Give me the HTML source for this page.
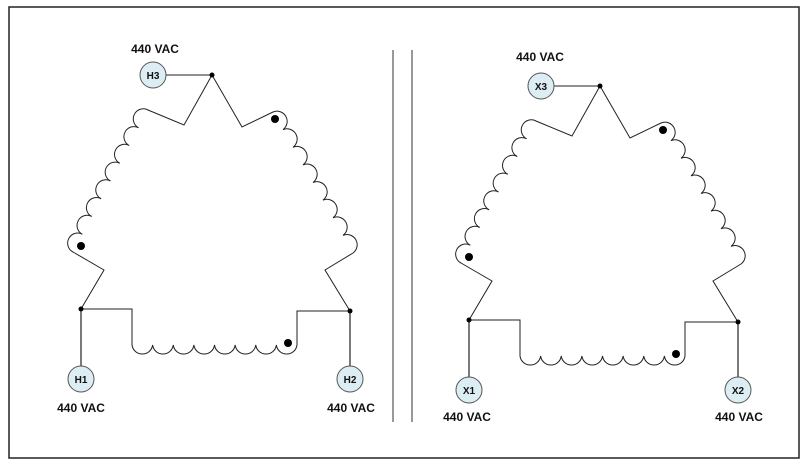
<!DOCTYPE html>
<html><head><meta charset="utf-8"><style>
html,body{margin:0;padding:0;background:#fff;}
svg{display:block;}
text{font-family:"Liberation Sans",sans-serif;font-weight:bold;fill:#111;}
</style></head><body>
<svg width="808" height="466" viewBox="0 0 808 466" xmlns="http://www.w3.org/2000/svg">
<rect x="0" y="0" width="808" height="466" fill="#fff"/>
<rect x="9" y="7" width="790" height="451" fill="none" stroke="#222" stroke-width="1.5"/>
<line x1="393" y1="50" x2="393" y2="422" stroke="#333" stroke-width="1"/>
<line x1="412" y1="50" x2="412" y2="422" stroke="#333" stroke-width="1"/>
<defs>
<g id="d">
  <g fill="none" stroke="#222" stroke-width="1">
    <line x1="166" y1="75" x2="212" y2="75"/>
    <path d="M212,75 L184,125 L148,110 a10 10 0 0 0 -9.375 17.75 a10 10 0 0 0 -9.375 17.75 a10 10 0 0 0 -9.375 17.75 a10 10 0 0 0 -9.375 17.75 a10 10 0 0 0 -9.375 17.75 a10 10 0 0 0 -9.375 17.75 a10 10 0 0 0 -9.375 17.75 a10 10 0 0 0 -9.375 17.75 L104,270 L81,309"/>
    <path d="M212,75 L242,127 L273,112 a10.2 10.2 0 0 1 10 17.625 a10.2 10.2 0 0 1 10 17.625 a10.2 10.2 0 0 1 10 17.625 a10.2 10.2 0 0 1 10 17.625 a10.2 10.2 0 0 1 10 17.625 a10.2 10.2 0 0 1 10 17.625 a10.2 10.2 0 0 1 10 17.625 a10.2 10.2 0 0 1 10 17.625 L325,270 L350,311"/>
    <path d="M81,309 L132,309 L132,345 a10.4 10.4 0 0 0 20.625 0 a10.4 10.4 0 0 0 20.625 0 a10.4 10.4 0 0 0 20.625 0 a10.4 10.4 0 0 0 20.625 0 a10.4 10.4 0 0 0 20.625 0 a10.4 10.4 0 0 0 20.625 0 a10.4 10.4 0 0 0 20.625 0 a10.4 10.4 0 0 0 20.625 0 L297,311 L350,311"/>
    <line x1="81" y1="309" x2="81" y2="366" stroke="#333" stroke-width="1.3"/>
    <line x1="350" y1="311" x2="350" y2="366" stroke="#333" stroke-width="1.3"/>
  </g>
  <g fill="#000">
    <circle cx="212" cy="75" r="2.5"/>
    <circle cx="81" cy="309" r="2.5"/>
    <circle cx="350" cy="311" r="2.5"/>
    <circle cx="275" cy="119" r="4"/>
    <circle cx="81" cy="246" r="4"/>
    <circle cx="288" cy="343" r="4"/>
  </g>
  <g fill="#dcedf3" stroke="#555" stroke-width="1">
    <circle cx="153" cy="75" r="13"/>
    <circle cx="81" cy="379" r="13"/>
    <circle cx="350" cy="379" r="13"/>
  </g>
</g>
</defs>
<use href="#d"/>
<use href="#d" transform="translate(388,11)"/>
<g font-size="10" text-anchor="middle">
  <text x="153" y="79">H3</text>
  <text x="81" y="383">H1</text>
  <text x="350" y="383">H2</text>
  <text x="541" y="90">X3</text>
  <text x="469" y="394">X1</text>
  <text x="738" y="394">X2</text>
</g>
<g font-size="12" text-anchor="middle">
  <text x="155" y="53">440 VAC</text>
  <text x="81" y="412">440 VAC</text>
  <text x="351" y="412">440 VAC</text>
  <text x="540" y="61">440 VAC</text>
  <text x="467" y="421">440 VAC</text>
  <text x="739" y="421">440 VAC</text>
</g>
</svg>
</body></html>
